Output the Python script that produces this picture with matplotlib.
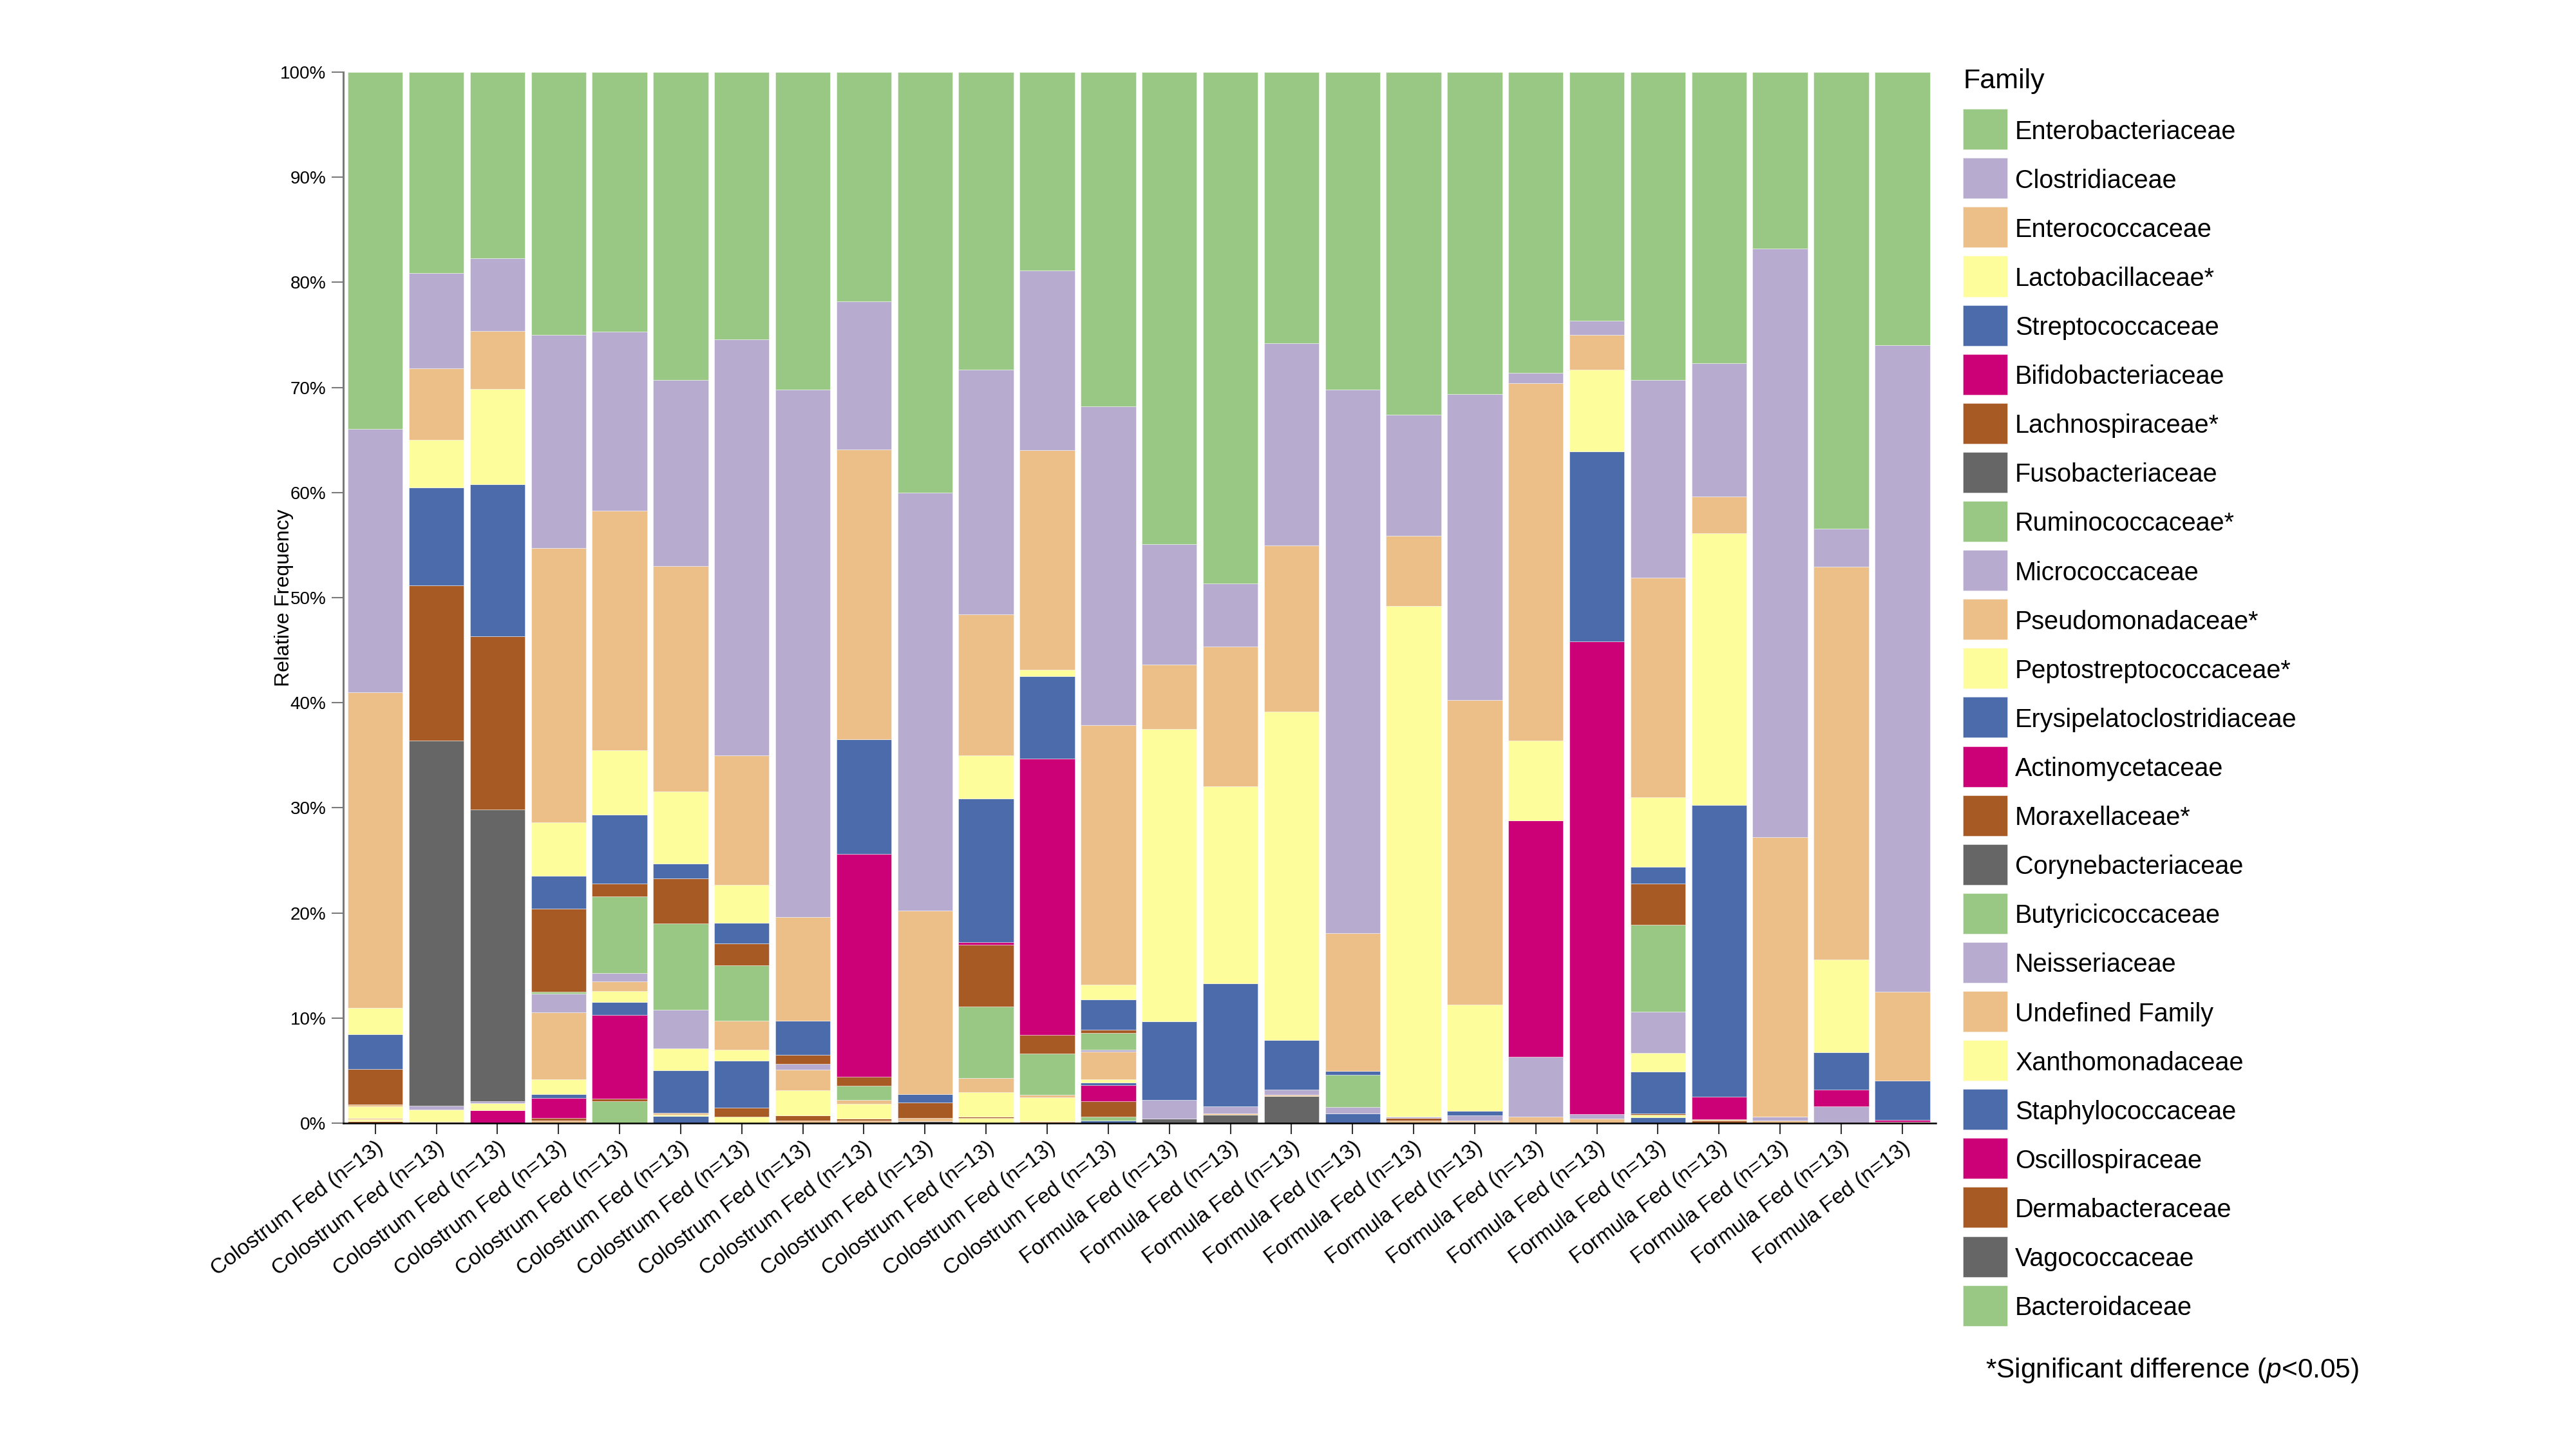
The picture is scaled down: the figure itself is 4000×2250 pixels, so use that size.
import matplotlib
matplotlib.use("Agg")
import matplotlib.pyplot as plt
from matplotlib.patches import Rectangle
import numpy as np

plt.rcParams['font.family'] = ['Liberation Sans', 'DejaVu Sans']
plt.rcParams['mathtext.fontset'] = 'custom'
plt.rcParams['mathtext.rm'] = 'Liberation Sans'
plt.rcParams['mathtext.it'] = 'Liberation Sans:italic'

#region Data ----------------------------------------------------------------
samples = ['Colostrum Fed (n=13)'] * 13 + ['Formula Fed (n=13)'] * 13

families = ['Enterobacteriaceae', 'Clostridiaceae', 'Enterococcaceae', 'Lactobacillaceae*',
            'Streptococcaceae', 'Bifidobacteriaceae', 'Lachnospiraceae*', 'Fusobacteriaceae',
            'Ruminococcaceae*', 'Micrococcaceae', 'Pseudomonadaceae*', 'Peptostreptococcaceae*',
            'Erysipelatoclostridiaceae', 'Actinomycetaceae', 'Moraxellaceae*', 'Corynebacteriaceae',
            'Butyricicoccaceae', 'Neisseriaceae', 'Undefined Family', 'Xanthomonadaceae',
            'Staphylococcaceae', 'Oscillospiraceae', 'Dermabacteraceae', 'Vagococcaceae',
            'Bacteroidaceae']

# relative abundance (%) of each family, one value per bar (left to right)
enterobacteriaceae = [33.9, 19.1, 17.7, 25.0, 24.7, 29.2, 25.4, 30.2, 21.8, 40.0, 28.3, 18.9, 31.8,
                      44.9, 48.6, 25.8, 30.2, 32.6, 30.6, 28.6, 23.65, 29.3, 27.7, 16.8, 43.4, 26.0]
clostridiaceae = [25.0, 9.1, 6.9, 20.3, 17.0, 17.7, 39.6, 50.2, 14.1, 39.8, 23.3, 17.1, 30.3,
                  11.5, 6.0, 19.2, 51.7, 11.5, 29.1, 1.0, 1.35, 18.8, 12.7, 56.0, 3.6, 61.5]
enterococcaceae = [30.0, 6.8, 5.5, 26.1, 22.8, 21.4, 12.3, 9.9, 27.6, 17.5, 13.4, 20.9, 24.7,
                   6.1, 13.3, 15.8, 13.1, 6.7, 29.0, 34.0, 3.3, 20.9, 3.5, 26.6, 37.4, 8.45]
lactobacillaceae = [2.5, 4.5, 9.1, 5.1, 6.1, 6.8, 3.6, 0, 0, 0, 4.1, 0.6, 1.4,
                    27.8, 18.7, 31.2, 0, 48.6, 10.1, 7.6, 7.8, 6.6, 25.8, 0, 8.8, 0]
streptococcaceae = [3.3, 9.3, 14.4, 3.1, 6.6, 1.4, 2.0, 3.26, 10.9, 0.75, 13.7, 7.8, 2.9,
                    7.5, 11.7, 4.72, 0.35, 0, 0.45, 0, 18.05, 1.6, 27.75, 0, 3.57, 3.73]
bifidobacteriaceae = [0, 0, 0, 0, 0, 0, 0, 0, 21.2, 0, 0.2, 26.3, 0,
                      0, 0, 0, 0, 0, 0, 22.5, 45.0, 0, 2.18, 0, 1.57, 0.16]
lachnospiraceae = [3.4, 14.8, 16.5, 7.9, 1.2, 4.3, 2.05, 0.86, 0.82, 1.47, 5.9, 1.78, 0.31,
                   0, 0, 0, 0, 0, 0, 0, 0, 3.9, 0, 0, 0, 0]
fusobacteriaceae = [0, 34.7, 27.7, 0, 0, 0, 0, 0, 0, 0, 0, 0, 0,
                    0, 0, 0, 0, 0, 0, 0, 0, 0, 0, 0, 0, 0]
ruminococcaceae = [0, 0, 0, 0.2, 7.3, 8.2, 5.3, 0, 1.39, 0, 6.8, 3.94, 1.59,
                   0, 0, 0, 3.06, 0, 0, 0, 0, 8.3, 0, 0, 0, 0]
micrococcaceae = [0, 0.36, 0.2, 1.75, 0.8, 3.67, 0, 0.51, 0, 0, 0, 0, 0.2,
                  1.8, 0.67, 0.51, 0.61, 0.14, 0.47, 5.68, 0.45, 3.9, 0, 0.37, 1.59, 0]
pseudomonadaceae = [0.15, 0, 0, 6.4, 0.9, 0, 2.75, 2.0, 0.35, 0.35, 1.33, 0.24, 2.64,
                    0, 0.1, 0.1, 0, 0, 0.1, 0.61, 0.4, 0, 0.12, 0.24, 0, 0.14]
peptostreptococcaceae = [1.1, 1.15, 0.7, 1.4, 1.06, 2.04, 1.06, 2.39, 1.43, 0, 2.35, 2.29, 0.26,
                         0, 0, 0, 0, 0, 0, 0, 0, 1.8, 0, 0, 0, 0]
erysipelatoclostridiaceae = [0, 0, 0, 0.4, 1.2, 4.04, 4.45, 0, 0, 0, 0, 0, 0.25,
                             0, 0, 0, 0.92, 0, 0, 0, 0, 3.98, 0, 0, 0, 0]
actinomycetaceae = [0, 0, 1.2, 1.9, 7.95, 0, 0, 0, 0, 0, 0, 0, 1.55,
                    0, 0, 0, 0, 0, 0, 0, 0, 0, 0, 0, 0, 0]
moraxellaceae = [0, 0, 0, 0.23, 0.27, 0, 0.86, 0.47, 0.16, 0, 0.14, 0, 1.47,
                 0, 0, 0, 0, 0.24, 0.14, 0, 0, 0.1, 0.24, 0, 0, 0]
corynebacteriaceae = [0, 0, 0, 0, 0, 0, 0, 0, 0, 0.16, 0, 0, 0,
                      0.41, 0.82, 2.59, 0, 0, 0, 0, 0, 0, 0, 0, 0, 0]
butyricicoccaceae = [0, 0, 0, 0, 2.08, 0, 0, 0, 0, 0, 0, 0, 0.37,
                     0, 0, 0, 0, 0, 0, 0, 0, 0, 0, 0, 0, 0]
neisseriaceae = [0] * 26
undefined_family = [0.15, 0, 0, 0.24, 0, 0.2, 0, 0.24, 0.24, 0, 0, 0.16, 0,
                    0, 0, 0, 0, 0.24, 0, 0, 0, 0, 0, 0, 0, 0]
xanthomonadaceae = [0.2, 0, 0, 0, 0, 0.15, 0.61, 0, 0, 0, 0.47, 0, 0,
                    0, 0, 0, 0, 0, 0, 0, 0, 0.25, 0, 0, 0, 0]
staphylococcaceae = [0, 0, 0, 0, 0, 0.65, 0, 0, 0, 0, 0, 0, 0.24,
                     0, 0, 0, 0, 0, 0, 0, 0, 0.55, 0, 0, 0, 0]
oscillospiraceae = [0] * 26
dermabacteraceae = [0.16, 0.15, 0, 0, 0, 0, 0, 0, 0, 0, 0, 0, 0,
                    0, 0, 0, 0, 0, 0, 0, 0, 0, 0, 0, 0, 0]
vagococcaceae = [0] * 26
bacteroidaceae = [0] * 26
#endregion

series = [enterobacteriaceae, clostridiaceae, enterococcaceae, lactobacillaceae,
          streptococcaceae, bifidobacteriaceae, lachnospiraceae, fusobacteriaceae,
          ruminococcaceae, micrococcaceae, pseudomonadaceae, peptostreptococcaceae,
          erysipelatoclostridiaceae, actinomycetaceae, moraxellaceae, corynebacteriaceae,
          butyricicoccaceae, neisseriaceae, undefined_family, xanthomonadaceae,
          staphylococcaceae, oscillospiraceae, dermabacteraceae, vagococcaceae,
          bacteroidaceae]

# muted Accent palette, cycled through the families
palette = ['#99C784', '#B7ABCF', '#ECBE88', '#FEFD9C', '#4B6BAA', '#CC0077', '#A85A24', '#666666']
colors = [palette[i % len(palette)] for i in range(len(families))]

#region Chart ---------------------------------------------------------------
data = np.array(series, dtype=float)
data = data / data.sum(axis=0) * 100  # each bar adds up to 100%

W, H = 4000, 2250
fig = plt.figure(figsize=(W / 100, H / 100), dpi=100)
ax = fig.add_axes([0.13325, 0.2249, 0.61825, 0.72533])

x = np.arange(len(samples))
bottom = np.zeros(len(samples))
for i in reversed(range(len(families))):  # last family at the bottom
    ax.bar(x, data[i], width=0.9, bottom=bottom, color=colors[i],
           edgecolor=(1, 1, 1, 0.5), linewidth=0.6)
    bottom += data[i]

ax.set_xlim(-0.524, 25.55)
ax.set_ylim(0, 100)
ax.set_yticks(np.arange(0, 101, 10))
ax.set_yticklabels([f'{v}%' for v in range(0, 101, 10)], fontsize=20)
ax.set_xticks(x)
ax.set_xticklabels(samples, rotation=37, ha='right', rotation_mode='anchor', fontsize=24)

ax.spines['top'].set_visible(False)
ax.spines['right'].set_visible(False)
ax.spines['left'].set_color('#7a7a7a')
ax.spines['left'].set_linewidth(2.2)
ax.spines['bottom'].set_color('black')
ax.spines['bottom'].set_linewidth(1.8)
ax.tick_params(axis='y', length=13, width=1.5, color='#7a7a7a', pad=6)
ax.tick_params(axis='x', length=12, width=1.5, color='#333333', pad=4)

ax.set_ylabel('Relative Frequency', fontsize=23)
ax.yaxis.set_label_coords(-0.031, 0.5)

#region Legend (drawn by hand to match the row spacing)
fig.text(3048 / W, 1 - 126 / H, 'Family', fontsize=31, ha='left', va='center')
row0, pitch = 200.7, 76.1
for i, name in enumerate(families):
    yc = row0 + pitch * i
    fig.add_artist(Rectangle((3048 / W, 1 - (yc + 31.5) / H), 69 / W, 63 / H,
                             transform=fig.transFigure, facecolor=colors[i],
                             edgecolor=(1, 1, 1, 0.5), linewidth=0.6))
    fig.text(3129 / W, 1 - yc / H, name, fontsize=28.5, ha='left', va='center_baseline')
#endregion

fig.text(3083 / W, 1 - 2128 / H, r'*Significant difference ($p$<0.05)',
         fontsize=30.5, va='center', ha='left')

fig.savefig('out.png', dpi=100)
#endregion
